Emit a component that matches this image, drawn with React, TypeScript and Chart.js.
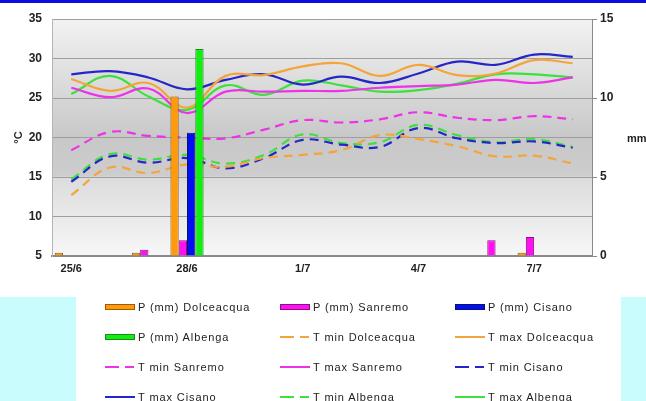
import React, { useEffect, useRef } from 'react';
import { Chart, registerables } from 'chart.js';

Chart.register(...registerables);

// ---------- data ----------
const dates = ['25/6', '26/6', '27/6', '28/6', '29/6', '30/6', '1/7', '2/7', '3/7', '4/7', '5/7', '6/7', '7/7', '8/7'];

const pDolceacqua = [0.2, 0, 0.2, 10.1, 0, 0, 0, 0, 0, 0, 0, 0, 0.2, 0];
const pSanremo = [0, 0, 0.4, 1.0, 0, 0, 0, 0, 0, 0, 0, 1.0, 1.2, 0];
const pCisano = [0, 0, 0, 7.8, 0, 0, 0, 0, 0, 0, 0, 0, 0, 0];
const pAlbenga = [0, 0, 0, 13.1, 0, 0, 0, 0, 0, 0, 0, 0, 0, 0];

const tminDolceacqua = [12.7, 16.2, 15.5, 16.6, 16.3, 17.4, 17.8, 18.4, 20.3, 19.8, 18.9, 17.6, 17.7, 16.7];
const tmaxDolceacqua = [27.4, 25.9, 26.9, 23.8, 27.8, 27.9, 29.0, 29.4, 27.8, 29.2, 27.9, 28.1, 29.8, 29.4];
const tminSanremo = [18.4, 20.7, 20.2, 20.0, 19.9, 21.0, 22.2, 21.9, 22.3, 23.2, 22.5, 22.2, 22.7, 22.3];
const tmaxSanremo = [26.3, 25.1, 26.2, 23.1, 25.8, 25.8, 25.9, 25.9, 26.3, 26.5, 26.7, 27.3, 26.9, 27.6];
const tminCisano = [14.4, 17.6, 16.8, 17.4, 16.1, 17.4, 19.7, 19.1, 18.8, 21.2, 19.9, 19.3, 19.5, 18.7];
const tmaxCisano = [28.0, 28.4, 27.6, 26.1, 27.3, 28.0, 26.7, 27.7, 26.9, 28.1, 29.6, 29.2, 30.5, 30.2];
const tminAlbenga = [14.7, 17.9, 17.2, 17.8, 16.7, 17.8, 20.4, 19.3, 19.4, 21.6, 20.3, 19.4, 19.8, 18.8];
const tmaxAlbenga = [25.5, 27.8, 25.2, 23.5, 26.6, 25.4, 27.2, 26.6, 25.8, 26.0, 26.8, 28.0, 28.0, 27.6];

const tempTicks = [5, 10, 15, 20, 25, 30, 35];
const rainTicks = [0, 5, 10, 15];
const shownDates = ['25/6', '28/6', '1/7', '4/7', '7/7'];

// ---------- styles ----------
const FONT = "'Liberation Sans', Arial, sans-serif";
const C_OR_BAR = '#ff9a0a';
const C_MG_BAR = '#ff10f0';
const C_BL_BAR = '#0010f0';
const C_GR_BAR = '#10f010';
const C_OR = '#f3a53c';
const C_MG = '#ec33e8';
const C_BL = '#2626c8';
const C_GR = '#3ee03e';

type Series = {
  label: string;
  kind: 'bar' | 'solid' | 'dash';
  data: number[];
  color: string;
  border?: string;
};

const series: Series[] = [
  { label: 'P (mm) Dolceacqua', kind: 'bar', data: pDolceacqua, color: C_OR_BAR, border: '#9a5a10' },
  { label: 'P (mm) Sanremo', kind: 'bar', data: pSanremo, color: C_MG_BAR, border: '#8a108a' },
  { label: 'P (mm) Cisano', kind: 'bar', data: pCisano, color: C_BL_BAR, border: '#101070' },
  { label: 'P (mm) Albenga', kind: 'bar', data: pAlbenga, color: C_GR_BAR, border: '#208a20' },
  { label: 'T min Dolceacqua', kind: 'dash', data: tminDolceacqua, color: C_OR },
  { label: 'T max Dolceacqua', kind: 'solid', data: tmaxDolceacqua, color: C_OR },
  { label: 'T min Sanremo', kind: 'dash', data: tminSanremo, color: C_MG },
  { label: 'T max Sanremo', kind: 'solid', data: tmaxSanremo, color: C_MG },
  { label: 'T min Cisano', kind: 'dash', data: tminCisano, color: C_BL },
  { label: 'T max Cisano', kind: 'solid', data: tmaxCisano, color: C_BL },
  { label: 'T min Albenga', kind: 'dash', data: tminAlbenga, color: C_GR },
  { label: 'T max Albenga', kind: 'solid', data: tmaxAlbenga, color: C_GR },
];

const plotBg = {
  id: 'plotBg',
  beforeDraw(chart: any) {
    const { ctx, chartArea: a } = chart;
    if (!a) return;
    const g = ctx.createLinearGradient(0, a.top, 0, a.bottom);
    g.addColorStop(0, '#f2f2f2');
    g.addColorStop(0.17, '#e4e4e4');
    g.addColorStop(0.5, '#c8c8c8');
    g.addColorStop(0.66, '#cdcdcd');
    g.addColorStop(0.67, '#dcdcdc');
    g.addColorStop(1, '#f7f7f7');
    ctx.save();
    ctx.fillStyle = g;
    ctx.fillRect(a.left, a.top, a.width, a.height);
    ctx.restore();
  },
};

function LegendSymbol({ s }: { s: Series }) {
  if (s.kind === 'bar') {
    return (
      <svg width={30} height={8} style={{ display: 'block' }}>
        <rect x={0.5} y={1.5} width={29} height={5} fill={s.color} stroke={s.border} strokeWidth={1} />
      </svg>
    );
  }
  if (s.kind === 'dash') {
    return (
      <svg width={30} height={8} style={{ display: 'block' }}>
        <line x1={0} y1={4} x2={14} y2={4} stroke={s.color} strokeWidth={2} />
        <line x1={20} y1={4} x2={29} y2={4} stroke={s.color} strokeWidth={2} />
      </svg>
    );
  }
  return (
    <svg width={30} height={8} style={{ display: 'block' }}>
      <line x1={0} y1={4} x2={30} y2={4} stroke={s.color} strokeWidth={2} />
    </svg>
  );
}

export default function App() {
  const ref = useRef<HTMLCanvasElement>(null);

  useEffect(() => {
    if (!ref.current) return;
    const datasets: any[] = series.map((s) =>
      s.kind === 'bar'
        ? {
            type: 'bar',
            label: s.label,
            data: s.data,
            yAxisID: 'y1',
            backgroundColor: s.color,
            borderColor: s.border,
            borderWidth: 1,
            categoryPercentage: 0.86,
            barPercentage: 1,
            order: 0,
          }
        : {
            type: 'line',
            label: s.label,
            data: s.data,
            yAxisID: 'y',
            borderColor: s.color,
            backgroundColor: s.color,
            borderWidth: 2.2,
            borderDash: s.kind === 'dash' ? [9, 6] : [],
            pointRadius: 0,
            tension: 0.4,
            fill: false,
            order: 1,
          }
    );

    const chart = new Chart(ref.current, {
      type: 'bar',
      data: { labels: dates, datasets },
      options: {
        animation: false,
        responsive: false,
        maintainAspectRatio: false,
        layout: { padding: { top: 19, left: 0, right: 0, bottom: 0 } },
        plugins: { legend: { display: false }, tooltip: { enabled: false } },
        scales: {
          x: {
            grid: { display: true, drawOnChartArea: false, drawTicks: false },
            border: { display: true, color: '#8a8a8a', width: 2 },
            ticks: {
              autoSkip: false,
              maxRotation: 0,
              padding: 6,
              color: '#222',
              font: { family: FONT, size: 11, weight: 'bold' },
              callback: (_v: any, i: number) => (shownDates.includes(dates[i]) ? dates[i] : ''),
            },
            afterFit: (s: any) => {
              s.height = 145;
            },
          },
          y: {
            position: 'left',
            min: tempTicks[0],
            max: tempTicks[tempTicks.length - 1],
            afterBuildTicks: (s: any) => {
              s.ticks = tempTicks.map((v) => ({ value: v }));
            },
            grid: { color: '#9e9e9e', lineWidth: 1, drawTicks: false },
            border: { display: true, color: '#b4b4b4', width: 1 },
            ticks: {
              padding: 10,
              color: '#222',
              font: { family: FONT, size: 12, weight: 'bold' },
            },
            title: {
              display: true,
              text: '°C',
              color: '#222',
              font: { family: FONT, size: 11, weight: 'bold' },
              padding: { top: 12, bottom: 0 },
            },
            afterFit: (s: any) => {
              s.width = 52;
            },
          },
          y1: {
            position: 'right',
            min: rainTicks[0],
            max: rainTicks[rainTicks.length - 1],
            afterBuildTicks: (s: any) => {
              s.ticks = rainTicks.map((v) => ({ value: v }));
            },
            grid: { drawOnChartArea: false, drawTicks: true, tickLength: 5, color: '#8a8a8a' },
            border: { display: true, color: '#8a8a8a', width: 1 },
            ticks: {
              padding: 3,
              color: '#222',
              font: { family: FONT, size: 12, weight: 'bold' },
            },
            afterFit: (s: any) => {
              s.width = 54;
            },
          },
        },
      },
      plugins: [plotBg],
    });
    return () => chart.destroy();
  }, []);

  return (
    <div
      style={{
        position: 'fixed',
        left: 0,
        top: 0,
        width: 646,
        height: 401,
        background: '#fff',
        overflow: 'hidden',
        fontFamily: FONT,
      }}
    >
      <div style={{ position: 'absolute', left: 0, top: 0, width: 646, height: 3, background: '#0c0ce0' }} />
      <div style={{ position: 'absolute', left: 0, top: 297, width: 76, height: 104, background: '#c9fdfd' }} />
      <div style={{ position: 'absolute', left: 621, top: 297, width: 25, height: 104, background: '#c9fdfd' }} />
      <canvas ref={ref} width={646} height={401} style={{ position: 'absolute', left: 0, top: 0, display: 'block' }} />
      <div
        style={{
          position: 'absolute',
          left: 627,
          top: 131,
          fontSize: 11,
          fontWeight: 'bold',
          color: '#222',
          lineHeight: '14px',
        }}
      >
        mm
      </div>
      {series.map((s, i) => {
        const col = i % 3;
        const row = Math.floor(i / 3);
        return (
          <div
            key={s.label}
            style={{
              position: 'absolute',
              left: 105 + 175 * col,
              top: 300 + 30 * row,
              height: 14,
              display: 'flex',
              alignItems: 'center',
              whiteSpace: 'nowrap',
              fontSize: 11,
              letterSpacing: '0.9px',
              color: '#222',
            }}
          >
            <LegendSymbol s={s} />
            <span style={{ marginLeft: 3 }}>{s.label}</span>
          </div>
        );
      })}
    </div>
  );
}
